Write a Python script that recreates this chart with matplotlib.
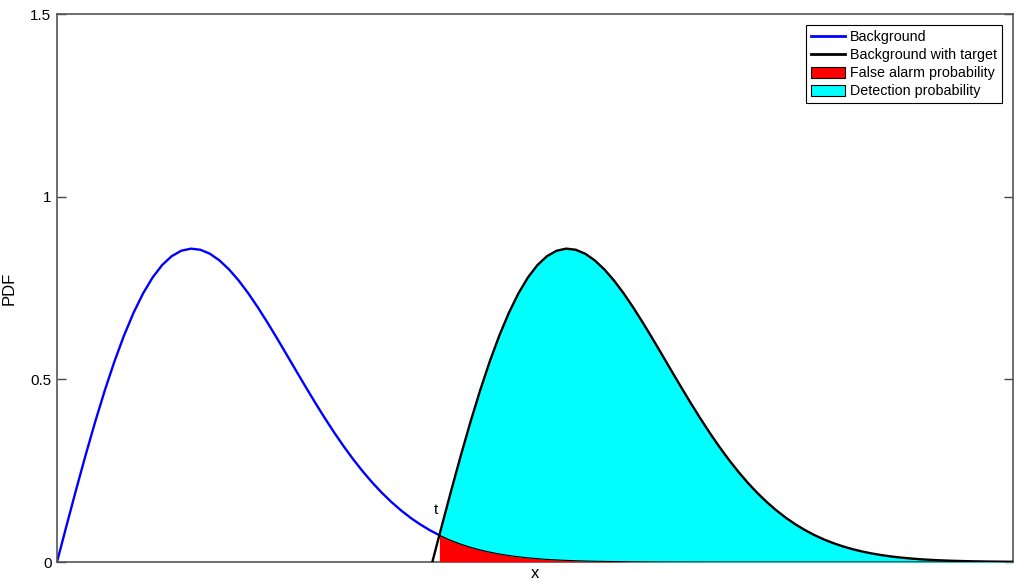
import matplotlib
matplotlib.use("Agg")
import matplotlib.pyplot as plt
from matplotlib.lines import Line2D
from matplotlib.patches import Patch
import numpy as np

plt.rcParams['font.family'] = ['Liberation Sans', 'DejaVu Sans']

# Background PDF (blue curve)
bg_x = [0.00, 0.05, 0.10, 0.15, 0.20, 0.25, 0.30, 0.35, 0.40, 0.45,
        0.50, 0.55, 0.60, 0.65, 0.70, 0.75, 0.80, 0.85, 0.90, 0.95,
        1.00, 1.05, 1.10, 1.15, 1.20, 1.25, 1.30, 1.35, 1.40, 1.45,
        1.50, 1.55, 1.60, 1.65, 1.70, 1.75, 1.80, 1.85, 1.90, 1.95,
        2.00, 2.05, 2.10, 2.15, 2.20, 2.25, 2.30, 2.35, 2.40, 2.45,
        2.50, 2.55, 2.60, 2.65, 2.70, 2.75, 2.80, 2.85, 2.90, 2.95,
        3.00, 3.10, 3.20, 3.30, 3.50, 4.00, 4.50, 4.75]
bg_y = [0.0000, 0.0998, 0.1980, 0.2933, 0.3843, 0.4697, 0.5484, 0.6193, 0.6817, 0.7350,
        0.7788, 0.8129, 0.8372, 0.8520, 0.8577, 0.8547, 0.8437, 0.8254, 0.8007, 0.7706,
        0.7358, 0.6973, 0.6560, 0.6129, 0.5686, 0.5240, 0.4798, 0.4364, 0.3944, 0.3542,
        0.3162, 0.2805, 0.2474, 0.2168, 0.1890, 0.1637, 0.1410, 0.1207, 0.1028, 0.0870,
        0.0733, 0.0613, 0.0511, 0.0423, 0.0348, 0.0285, 0.0232, 0.0188, 0.0151, 0.0121,
        0.0097, 0.0076, 0.0060, 0.0047, 0.0037, 0.0029, 0.0022, 0.0017, 0.0013, 0.0010,
        0.0007, 0.0004, 0.0002, 0.0001, 0.0000, 0.0000, 0.0000, 0.0000]

# Background with target PDF (black curve)
tg_x = [1.963, 2.000, 2.013, 2.063, 2.113, 2.163, 2.213, 2.263, 2.313, 2.363, 2.413,
        2.463, 2.513, 2.563, 2.613, 2.663, 2.713, 2.763, 2.813, 2.863, 2.913,
        2.963, 3.013, 3.063, 3.113, 3.163, 3.213, 3.263, 3.313, 3.363, 3.413,
        3.463, 3.513, 3.563, 3.613, 3.663, 3.713, 3.763, 3.813, 3.863, 3.913,
        3.963, 4.013, 4.063, 4.113, 4.163, 4.213, 4.263, 4.313, 4.363, 4.413,
        4.463, 4.513, 4.563, 4.613, 4.663, 4.713, 4.763, 4.813, 4.863, 4.913,
        4.963, 5.000]
tg_y = [0.0000, 0.0739, 0.0998, 0.1980, 0.2933, 0.3843, 0.4697, 0.5484, 0.6193, 0.6817, 0.7350,
        0.7788, 0.8129, 0.8372, 0.8520, 0.8577, 0.8547, 0.8437, 0.8254, 0.8007, 0.7706,
        0.7358, 0.6973, 0.6560, 0.6129, 0.5686, 0.5240, 0.4798, 0.4364, 0.3944, 0.3542,
        0.3162, 0.2805, 0.2474, 0.2168, 0.1890, 0.1637, 0.1410, 0.1207, 0.1028, 0.0870,
        0.0733, 0.0613, 0.0511, 0.0423, 0.0348, 0.0285, 0.0232, 0.0188, 0.0151, 0.0121,
        0.0097, 0.0076, 0.0060, 0.0047, 0.0037, 0.0029, 0.0022, 0.0017, 0.0013, 0.0010,
        0.0007, 0.0006]

threshold = 2.0
y_ticks = [0, 0.5, 1, 1.5]
y_tick_labels = ['0', '0.5', '1', '1.5']
legend_labels = ['Background', 'Background with target',
                 'False alarm probability', 'Detection probability']

bg_x_a = np.array(bg_x); bg_y_a = np.array(bg_y)
tg_x_a = np.array(tg_x); tg_y_a = np.array(tg_y)

fig = plt.figure(figsize=(10.24, 5.86), dpi=100)
ax = fig.add_axes([57/1024, 24/586, (1013-57)/1024, (562-14)/586])

# lines
ax.plot(bg_x_a, bg_y_a, color='#0000ff', lw=1.7, zorder=2)

# detection region
m_t = tg_x_a >= threshold
ax.fill_between(tg_x_a[m_t], 0, tg_y_a[m_t], color='#00ffff', lw=0, zorder=3)
# false alarm region
m_b = bg_x_a >= threshold
ax.fill_between(bg_x_a[m_b], 0, bg_y_a[m_b], color='#ff0000', lw=0, zorder=4)
ax.plot(bg_x_a[m_b], bg_y_a[m_b], color='black', lw=0.8, zorder=5)

ax.plot(tg_x_a, tg_y_a, color='black', lw=1.7, zorder=6)

ax.text(threshold - 0.005, 0.123, 't', ha='right', va='bottom', fontsize=11)

ax.set_xlim(0, 5)
ax.set_ylim(0, 1.5)
ax.set_xticks([])
ax.set_yticks(y_ticks)
ax.set_yticklabels(y_tick_labels)
ax.tick_params(axis='y', direction='in', length=6.5, width=1.0, color='#444444',
               labelsize=11, right=True, pad=4)
for s in ax.spines.values():
    s.set_color('#555555')
    s.set_linewidth(1.2)
ax.set_ylabel('PDF', fontsize=12, labelpad=10)
ax.set_xlabel('x', fontsize=12, labelpad=3)

handles = [Line2D([], [], color='#0000ff', lw=2),
           Line2D([], [], color='black', lw=2),
           Patch(facecolor='#ff0000', edgecolor='black', lw=0.8),
           Patch(facecolor='#00ffff', edgecolor='black', lw=0.8)]
leg = ax.legend(handles, legend_labels, loc='upper right', fontsize=10.3,
                fancybox=False, framealpha=1, edgecolor='black',
                borderaxespad=0.8, handlelength=2.4, handletextpad=0.3,
                labelspacing=0.28, borderpad=0.35, handleheight=0.85)
leg.get_frame().set_linewidth(0.8)

fig.savefig('out.png', dpi=100)
